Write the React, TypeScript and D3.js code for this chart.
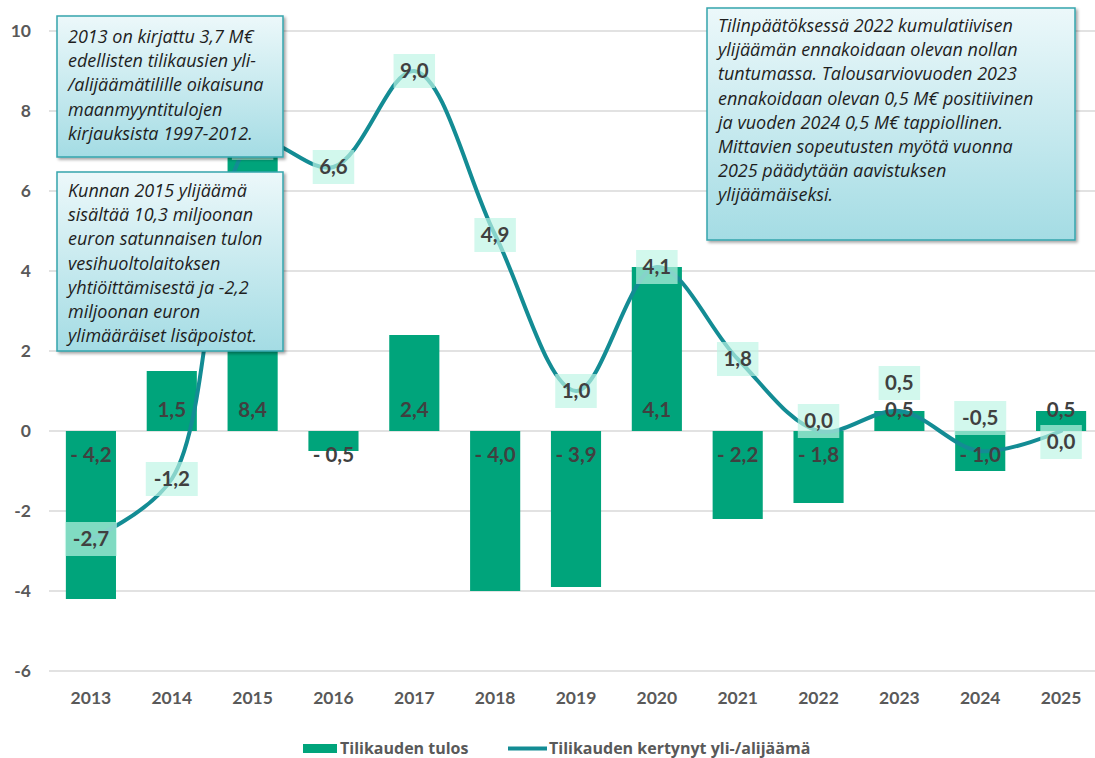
import React from 'react';
import * as d3 from 'd3';

const years = ['2013', '2014', '2015', '2016', '2017', '2018', '2019', '2020', '2021', '2022', '2023', '2024', '2025'];
const tulos = [-4.2, 1.5, 8.4, -0.5, 2.4, -4.0, -3.9, 4.1, -2.2, -1.8, 0.5, -1.0, 0.5];
const kertynyt = [-2.7, -1.2, 7.2, 6.6, 9.0, 4.9, 1.0, 4.1, 1.8, 0.0, 0.5, -0.5, 0.0];
const yTicks = [-6, -4, -2, 0, 2, 4, 6, 8, 10];
// pixel nudges for the line labels, as placed in the original
const labelNudge = [0, 0, 0, 0, 0, 0, 0, 0, 0, -10, -28, -33, 11];

const note1 = [
  '2013 on kirjattu 3,7 M€',
  'edellisten tilikausien yli-',
  '/alijäämätilille oikaisuna',
  'maanmyyntitulojen',
  'kirjauksista 1997-2012.',
];
const note2 = [
  'Kunnan 2015 ylijäämä',
  'sisältää 10,3 miljoonan',
  'euron satunnaisen tulon',
  'vesihuoltolaitoksen',
  'yhtiöittämisestä ja -2,2',
  'miljoonan euron',
  'ylimääräiset lisäpoistot.',
];
const note3 = [
  'Tilinpäätöksessä 2022 kumulatiivisen',
  'ylijäämän ennakoidaan olevan nollan',
  'tuntumassa. Talousarviovuoden 2023',
  'ennakoidaan olevan 0,5 M€ positiivinen',
  'ja vuoden 2024 0,5 M€ tappiollinen.',
  'Mittavien sopeutusten myötä vuonna',
  '2025 päädytään aavistuksen',
  'ylijäämäiseksi.',
];

const W = 1095;
const H = 758;
const BAR = '#00a47b';
const LINE = '#138c94';
const TXT = '#404040';
const AXIS = '#595959';
const FONT = 'Lato, "Open Sans", sans-serif';
const FONT2 = '"Open Sans", Lato, sans-serif';

const fmt = (v: number) => v.toFixed(1).replace('.', ',');
const fmtBar = (v: number) => (v < 0 ? '- ' + fmt(-v) : fmt(v));

function Note({ x, y, w, h, lines, top }: { x: number; y: number; w: number; h: number; lines: string[]; top: number }) {
  return (
    <g>
      <rect x={x} y={y} width={w} height={h} fill="url(#noteGrad)" stroke="#34a5ad" strokeWidth={1.5} filter="url(#shadow)" />
      {lines.map((t, i) => (
        <text key={i} x={x + 11} y={top + i * 24.2} fontSize={18} fontStyle="italic" fill="#1e1e1e" fontFamily={FONT2}>
          {t}
        </text>
      ))}
    </g>
  );
}

export default function App() {
  const x = d3.scaleBand<string>().domain(years).range([50.5, 1101.5]).paddingInner(0.38).paddingOuter(0.19);
  const y = d3.scaleLinear().domain([-6, 10]).range([671, 31]);
  const cx = (i: number) => (x(years[i]) as number) + x.bandwidth() / 2;

  const line = d3
    .line<number>()
    .x((_, i) => cx(i))
    .y((d) => y(d))
    .curve(d3.curveCatmullRom.alpha(0.5));

  return (
    <svg width={W} height={H} style={{ position: 'absolute', left: 0, top: 0, background: '#fff' }} fontFamily={FONT}>
      <defs>
        <linearGradient id="noteGrad" x1="0" y1="0" x2="0" y2="1">
          <stop offset="0" stopColor="#ecf8fa" />
          <stop offset="1" stopColor="#a4dce4" />
        </linearGradient>
        <filter id="shadow" x="-10%" y="-10%" width="130%" height="130%">
          <feDropShadow dx="2" dy="2" stdDeviation="1.5" floodColor="#000" floodOpacity="0.35" />
        </filter>
      </defs>

      {/* grid + y labels */}
      {yTicks.map((t) => (
        <g key={t}>
          <line x1={49} x2={W} y1={y(t)} y2={y(t)} stroke="#d9d9d9" strokeWidth={1.3} />
          <text x={31} y={y(t)} dy="0.35em" textAnchor="end" fontSize={17.5} fontWeight="bold" fill={AXIS}>
            {t}
          </text>
        </g>
      ))}

      {/* x labels */}
      {years.map((yr, i) => (
        <text key={yr} x={cx(i)} y={704} textAnchor="middle" fontSize={17.5} fontWeight="bold" fill={AXIS}>
          {yr}
        </text>
      ))}

      {/* bars */}
      {tulos.map((v, i) => (
        <rect
          key={i}
          x={x(years[i])}
          y={y(Math.max(0, v))}
          width={x.bandwidth()}
          height={Math.abs(y(v) - y(0))}
          fill={BAR}
        />
      ))}

      {/* line */}
      <path d={line(kertynyt) || ''} fill="none" stroke={LINE} strokeWidth={4} strokeLinecap="round" />

      {/* bar labels */}
      {tulos.map((v, i) => (
        <text
          key={i}
          x={cx(i)}
          y={v < 0 ? y(0) + 24 : y(0) - 21}
          dy="0.35em"
          textAnchor="middle"
          fontSize={20.5}
          fontWeight="bold"
          fill={TXT}
        >
          {fmtBar(v)}
        </text>
      ))}

      {/* line labels (2015 one sits behind the notes, as in the original) */}
      {kertynyt.map((v, i) => {
        const t = fmt(v);
        const w = t.length * 10.5 + 10;
        const yy = y(v) + labelNudge[i];
        return (
          <g key={i}>
            <rect x={cx(i) - w / 2} y={yy - 17} width={w} height={34} fill="rgb(188,245,229)" fillOpacity={0.68} />
            {i !== 2 && (
              <text x={cx(i)} y={yy} dy="0.35em" textAnchor="middle" fontSize={20.5} fontWeight="bold" fill={TXT}>
                {t}
              </text>
            )}
          </g>
        );
      })}

      {/* notes */}
      <Note x={57} y={16} w={226} h={141} lines={note1} top={43} />
      <Note x={57} y={172} w={226} h={179} lines={note2} top={197} />
      <Note x={707} y={8} w={368} h={232} lines={note3} top={32} />

      {/* legend */}
      <rect x={303} y={744} width={34} height={9} fill={BAR} />
      <text x={340} y={754} fontSize={16} fontWeight="bold" fill={AXIS} fontFamily={FONT2}>
        Tilikauden tulos
      </text>
      <line x1={508} x2={547} y1={748.5} y2={748.5} stroke={LINE} strokeWidth={4} />
      <text x={549} y={754} fontSize={16} fontWeight="bold" fill={AXIS} fontFamily={FONT2}>
        Tilikauden kertynyt yli-/alijäämä
      </text>
    </svg>
  );
}
